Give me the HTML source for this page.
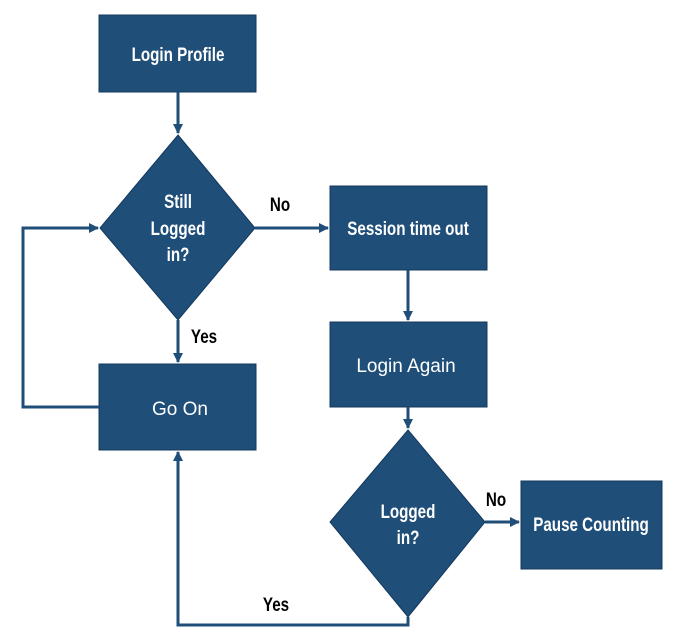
<!DOCTYPE html>
<html><head><style>
body{margin:0;background:#fff;}
svg{display:block}
.b{font-family:"Liberation Sans",sans-serif;font-weight:bold;font-size:19px;fill:#fff;}
.r{font-family:"Liberation Sans",sans-serif;font-size:19px;fill:#fff;}
.k{font-family:"Liberation Sans",sans-serif;font-weight:bold;font-size:19px;fill:#000;}
</style></head><body>
<svg width="680" height="638" viewBox="0 0 680 638">
<defs><marker id="a" markerWidth="10" markerHeight="10" refX="9" refY="5" orient="auto" markerUnits="userSpaceOnUse"><path d="M0,0 L10,5 L0,10 z" fill="#1f4e79"/></marker></defs>
<g fill="#1f4e79" stroke="#14385c" stroke-width="1">
<rect x="99" y="15" width="157" height="77"/>
<polygon points="178,135 255,228 178,320 100,228"/>
<rect x="330" y="186" width="157" height="84"/>
<rect x="330" y="322" width="157" height="85"/>
<rect x="99" y="364" width="157" height="86"/>
<polygon points="408,430 485,522 408,617 330,522"/>
<rect x="521" y="481" width="141" height="88"/>
</g>
<g stroke="#1f4e79" stroke-width="3" fill="none">
<line x1="178" y1="92" x2="178" y2="133" marker-end="url(#a)"/>
<line x1="255" y1="228" x2="328" y2="228" marker-end="url(#a)"/>
<line x1="178" y1="320" x2="178" y2="362" marker-end="url(#a)"/>
<line x1="408" y1="270" x2="408" y2="320" marker-end="url(#a)"/>
<line x1="408" y1="407" x2="408" y2="428" marker-end="url(#a)"/>
<line x1="485" y1="522" x2="519" y2="522" marker-end="url(#a)"/>
<polyline points="99,407 23,407 23,228 98,228" marker-end="url(#a)"/>
<polyline points="408,617 408,625 178,625 178,452" marker-end="url(#a)"/>
</g>
<g transform="translate(178,61) scale(0.8,1)"><text class="b" text-anchor="middle">Login Profile</text></g>
<g transform="translate(178,208) scale(0.8,1)"><text class="b" text-anchor="middle">Still</text></g>
<g transform="translate(178,235) scale(0.8,1)"><text class="b" text-anchor="middle">Logged</text></g>
<g transform="translate(178,261) scale(0.8,1)"><text class="b" text-anchor="middle">in?</text></g>
<g transform="translate(408,235) scale(0.8,1)"><text class="b" text-anchor="middle">Session time out</text></g>
<text class="r" x="406" y="372" text-anchor="middle">Login Again</text>
<text class="r" x="180" y="415" text-anchor="middle">Go On</text>
<g transform="translate(408,518) scale(0.8,1)"><text class="b" text-anchor="middle">Logged</text></g>
<g transform="translate(408,544) scale(0.8,1)"><text class="b" text-anchor="middle">in?</text></g>
<g transform="translate(591,531) scale(0.8,1)"><text class="b" text-anchor="middle">Pause Counting</text></g>
<g transform="translate(280,211) scale(0.8,1)"><text class="k" text-anchor="middle">No</text></g>
<g transform="translate(204,343) scale(0.8,1)"><text class="k" text-anchor="middle">Yes</text></g>
<g transform="translate(496,506) scale(0.8,1)"><text class="k" text-anchor="middle">No</text></g>
<g transform="translate(276,611) scale(0.8,1)"><text class="k" text-anchor="middle">Yes</text></g>
</svg>
</body></html>
